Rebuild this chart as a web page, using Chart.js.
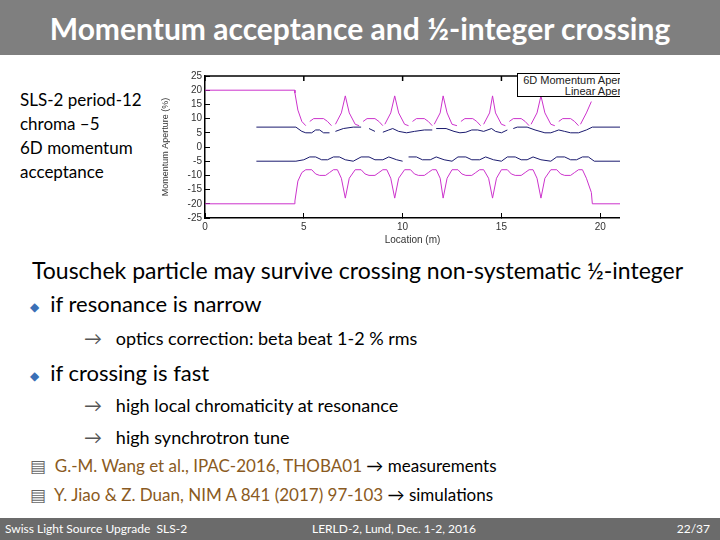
<!DOCTYPE html>
<html><head><meta charset="utf-8">
<script src="https://cdn.jsdelivr.net/npm/chart.js@4"></script>
<style>
body{margin:0;width:720px;height:540px;position:relative;background:#fff;font-family:Lato,"Open Sans",sans-serif;overflow:hidden}
.t{position:absolute;white-space:nowrap}
#title{left:0;top:0;width:720px;height:55px;background:#7f7f7f;color:#fff;font-weight:bold;font-size:30px;text-align:center;line-height:56px}
#foot{left:0;top:518px;width:720px;height:22px;background:#6b6b6b;color:#fff;font-size:12px;line-height:22px}
.arr{color:#555}
.ref{color:#8a5a22}
</style></head><body>
<div class="t" id="title">Momentum acceptance and ½-integer crossing</div>
<div class="t" style="left:20px;top:88px;font-size:17px;line-height:24px">SLS-2 period-12<br>chroma –5<br>6D momentum<br>acceptance</div>
<div style="position:absolute;left:160px;top:62px;width:460px;height:188px;overflow:hidden">
<canvas id="c" width="460" height="188"></canvas>
<div style="position:absolute;left:357px;top:11px;width:130px;height:24px;border:1.5px solid #000;background:#fff;font-family:'Liberation Sans',Arial;font-size:11px;line-height:11px;text-align:right;padding-right:6px;padding-top:1px;box-sizing:border-box;color:#222">6D Momentum Aperture<br>Linear Aperture</div>
</div>
<div class="t" style="left:32px;top:256px;font-size:23px">Touschek particle may survive crossing non-systematic ½-integer</div>
<div class="t" style="left:30px;top:290px;font-size:22px"><span style="color:#3b6fb6;font-size:12px;vertical-align:middle">◆</span>&nbsp; if resonance is narrow</div>
<div class="t" style="left:84px;top:327px;font-size:18px"><span class="arr">→</span>&nbsp;&nbsp; optics correction: beta beat 1-2 % rms</div>
<div class="t" style="left:30px;top:359px;font-size:22px"><span style="color:#3b6fb6;font-size:12px;vertical-align:middle">◆</span>&nbsp; if crossing is fast</div>
<div class="t" style="left:84px;top:394px;font-size:18px"><span class="arr">→</span>&nbsp;&nbsp; high local chromaticity at resonance</div>
<div class="t" style="left:84px;top:426px;font-size:18px"><span class="arr">→</span>&nbsp;&nbsp; high synchrotron tune</div>
<div class="t" style="left:30px;top:455px;font-size:17px"><span style="color:#666">▤</span>&nbsp; <span class="ref">G.-M. Wang et al., IPAC-2016, THOBA01</span> → measurements</div>
<div class="t" style="left:30px;top:484px;font-size:17px"><span style="color:#666">▤</span>&nbsp; <span class="ref">Y. Jiao &amp; Z. Duan, NIM A 841 (2017) 97-103</span> → simulations</div>
<div class="t" id="foot"><span style="position:absolute;left:5px">Swiss Light Source Upgrade&nbsp; SLS-2</span><span style="position:absolute;left:312px">LERLD-2, Lund, Dec. 1-2, 2016</span><span style="position:absolute;right:10px">22/37</span></div>
<script>
const xTicks=[0,5,10,15,20];
const yTicks=[25,20,15,10,5,0,-5,-10,-15,-20,-25];
const linUpper=[[0,20],[4.55,20],[4.55,19],[4.7,13],[4.9,9],[5.1,7.5],null,[5.3,9],[5.5,10],[6.0,10],[6.2,9],[6.4,7.5],null,[6.6,8],[6.9,12],[7.1,18],[7.3,12],[7.6,8],[7.8,7.5],null,[8.0,9],[8.2,10],[8.6,10],[8.8,9],[9.0,7.5],null,[9.1,8],[9.4,12],[9.6,18],[9.8,12],[10.1,8],[10.3,7.5],null,[10.5,9],[10.7,10],[11.1,10],[11.3,9],[11.5,7.5],null,[11.6,8],[11.9,12],[12.05,18],[12.25,12],[12.5,8],[12.75,7.5],null,[12.95,9],[13.15,10],[13.55,10],[13.75,9],[13.95,7.5],null,[14.1,8],[14.4,12],[14.55,18],[14.7,12],[15.0,8],[15.2,7.5],null,[15.4,9],[15.6,10],[16.0,10],[16.2,9],[16.4,7.5],null,[16.5,8],[16.8,12],[17.0,18],[17.2,12],[17.5,8],[17.7,7.5],null,[17.9,9],[18.1,10],[18.5,10],[18.7,9],[18.9,7.5],null,[19.0,8],[19.3,12],[19.55,16]];
const linLower=[[0,-20],[4.55,-20],[4.55,-19],[4.7,-12],[4.9,-9],[5.1,-8],[5.4,-8],[5.6,-9.5],[5.8,-10],[6.1,-10],[6.3,-9],[6.5,-8],[6.7,-8],[6.9,-11],[7.1,-18],[7.3,-11],[7.6,-8],[7.9,-8],[8.1,-9.5],[8.3,-10],[8.6,-10],[8.8,-9],[9.0,-8],[9.2,-8],[9.4,-11],[9.6,-18],[9.8,-11],[10.1,-8],[10.4,-8],[10.6,-9.5],[10.8,-10],[11.1,-10],[11.3,-9],[11.5,-8],[11.7,-8],[11.9,-11],[12.05,-18],[12.25,-11],[12.5,-8],[12.8,-8],[13.0,-9.5],[13.2,-10],[13.5,-10],[13.7,-9],[13.9,-8],[14.1,-8],[14.35,-11],[14.55,-18],[14.75,-11],[15.0,-8],[15.3,-8],[15.5,-9.5],[15.7,-10],[16.0,-10],[16.2,-9],[16.4,-8],[16.6,-8],[16.8,-11],[17.0,-18],[17.2,-11],[17.5,-8],[17.8,-8],[18.0,-9.5],[18.2,-10],[18.5,-10],[18.7,-9],[18.9,-8],[19.1,-8],[19.3,-11],[19.55,-16],[19.6,-20],[21,-20]];
const daUpper=[[2.6,7],[4.6,7],[4.9,5.5],[5.1,5],[5.4,5],[5.6,6],[5.8,6],[6.0,5],[6.3,5],null,[6.6,5.5],[7.0,6.5],[7.5,7],[7.9,7],null,[8.3,6.5],[8.6,5.5],null,[9.0,5.2],[9.3,6],[9.5,6.5],[9.8,5.5],[10.2,5],[10.6,5.5],[11.1,6],[11.5,6],null,[11.7,6.5],[12.2,6.5],[12.6,5.5],[12.9,5],[13.2,5.2],[13.5,6],[13.8,6],[14.1,5.5],[14.5,6.5],[14.7,5.5],[15,5],[15.3,6],null,[15.6,6.5],[15.8,7],[16.3,7],[16.7,6],[17.2,5],[17.5,5],[17.7,5.5],[17.9,6],[18.2,5.5],[18.5,5],[18.9,5],[19.3,6],[19.6,7],[21,7]];
const daLower=[[2.6,-5],[4.6,-5],[5.0,-4.5],[5.3,-3.5],[5.6,-3.5],[5.9,-4.5],[6.2,-4.5],[6.5,-3.5],[6.8,-3.5],[7.1,-4.5],[7.5,-5],[7.9,-3.5],[8.3,-3.5],[8.6,-4.5],[9.0,-4.5],[9.3,-3.5],[9.7,-4.5],[10.0,-5],null,[10.3,-3.5],[10.7,-3.5],[11.0,-4.5],[11.4,-4.5],[11.7,-3.5],[12.1,-4.5],[12.5,-5],[12.8,-3.5],[13.2,-3.5],[13.5,-4.5],[13.9,-4.5],[14.2,-3.5],[14.6,-4.5],[15,-5],[15.3,-3.5],[15.7,-3.5],[16,-4.5],[16.3,-4.5],[16.6,-3.5],[17,-4.5],[17.5,-5],[17.8,-3.5],[18.2,-3.5],[18.5,-4.5],[18.8,-4.5],[19.1,-3.5],[19.4,-3.5],[19.7,-5],[21,-5]];
const pts=a=>a.map(p=>p?{x:p[0],y:p[1]}:{x:null,y:null});
const ds=(a,c)=>({data:pts(a),borderColor:c,borderWidth:1,pointRadius:0,showLine:true,spanGaps:false,tension:0});
new Chart(document.getElementById('c'),{type:'scatter',
data:{datasets:[ds(daUpper,'#1a1a6e'),ds(daLower,'#1a1a6e'),ds(linUpper,'#cc33cc'),ds(linLower,'#cc33cc')]},
options:{responsive:false,animation:false,events:[],layout:{padding:{top:10,right:0,left:0,bottom:0}},
plugins:{legend:{display:false},tooltip:{enabled:false}},
scales:{
x:{type:'linear',min:0,max:21,afterBuildTicks:s=>{s.ticks=xTicks.map(v=>({value:v}))},afterFit:s=>{s.height=32},
 border:{color:'#000',width:1.5},grid:{display:true,drawOnChartArea:false,tickLength:-5,color:'#000'},
 ticks:{color:'#333',font:{size:10,family:'Liberation Sans'},padding:8,autoSkip:false,maxRotation:0},
 title:{display:true,text:'Location (m)',color:'#333',font:{size:10,family:'Liberation Sans'},padding:{top:0}}},
y:{min:-25,max:25,afterBuildTicks:s=>{s.ticks=yTicks.map(v=>({value:v}))},afterFit:s=>{s.width=45},
 border:{color:'#000',width:1.5},grid:{display:true,drawOnChartArea:false,tickLength:-5,color:'#000'},
 ticks:{color:'#333',font:{size:10,family:'Liberation Sans'},padding:8,autoSkip:false},
 title:{display:true,text:'Momentum Aperture (%)',color:'#333',font:{size:9,family:'Liberation Sans'},padding:0}},
}},
plugins:[{id:'topb',afterDraw(c){const a=c.chartArea,g=c.ctx;g.save();g.strokeStyle='#000';g.lineWidth=1.5;g.beginPath();g.moveTo(a.left,a.top);g.lineTo(a.right+2,a.top);g.stroke();
 xTicks.forEach(v=>{const x=c.scales.x.getPixelForValue(v);g.beginPath();g.moveTo(x,a.top);g.lineTo(x,a.top+5);g.stroke();});g.restore();}}]
});
</script>
</body></html>
